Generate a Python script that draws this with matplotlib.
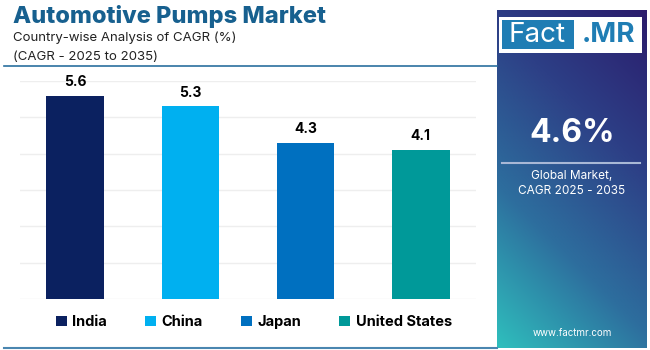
import matplotlib.pyplot as plt
import numpy as np
from matplotlib.colors import LinearSegmentedColormap
from matplotlib.patches import Rectangle, Patch
from matplotlib.lines import Line2D

plt.rcParams['font.family'] = ['Inter', 'DejaVu Sans']

# datos
countries = ['India', 'China', 'Japan', 'United States']
cagr = [5.6, 5.3, 4.3, 4.1]
bar_colors = ['#0b2160', '#00b0f0', '#0070c0', '#009999']
global_cagr = '4.6%'

fig = plt.figure(figsize=(6.5, 3.5), dpi=100)
fig.patch.set_facecolor('white')

# titulos
fig.text(13 / 650, 1 - 17 / 350, 'Automotive Pumps Market', fontsize=17, fontweight='heavy',
         color='#17608f', va='center', ha='left')
fig.text(13 / 650, 1 - 38 / 350, 'Country-wise Analysis of CAGR (%)', fontsize=9.5,
         color='#222222', va='center', ha='left')
fig.text(13 / 650, 1 - 57 / 350, '(CAGR - 2025 to 2035)', fontsize=9.5,
         color='#222222', va='center', ha='left')
fig.add_artist(Line2D([4 / 650, 497 / 650], [1 - 66 / 350] * 2, color='#2a6f9e', lw=1.2))
fig.add_artist(Line2D([4 / 650, 497 / 650], [1 - 348 / 350] * 2, color='#4a86b0', lw=1.5))

# grafico de barras
ax = fig.add_axes([20 / 650, 1 - 299 / 350, 456 / 650, 218 / 350])
x = np.arange(len(countries))
ax.bar(x, cagr, width=0.5, color=bar_colors, zorder=3)
for xi, v in zip(x, cagr):
    ax.text(xi, v + 0.18, f'{v}', ha='center', va='bottom', fontsize=10, fontweight='bold')
ax.set_xlim(-0.48, 3.48)
ax.set_ylim(0, 6)
ax.set_yticks(range(7))
ax.grid(axis='y', color='#eeeeee', lw=1, zorder=0)
ax.tick_params(left=False, bottom=False, labelleft=False, labelbottom=False)
for s in ax.spines.values():
    s.set_visible(False)

handles = [Patch(facecolor=c, label=n) for c, n in zip(bar_colors, countries)]
leg = fig.legend(handles=handles, loc='center', bbox_to_anchor=(254 / 650, 1 - 322 / 350),
                 ncol=4, frameon=False, handlelength=0.75, handleheight=0.75,
                 handletextpad=0.4, columnspacing=2.6,
                 prop={'weight': 'bold', 'size': 10.5})

# panel derecho con degradado
pan = fig.add_axes([497 / 650, 1 - 348 / 350, 150 / 650, 338 / 350])
gx, gy = np.meshgrid(np.linspace(0, 1, 200), np.linspace(0, 1, 400))
t = 0.8 * gy + 0.35 * gx
t = (t - t.min()) / (t.max() - t.min())
cmap = LinearSegmentedColormap.from_list('panel', ['#2fbfbd', '#2d6e9e', '#2d3f86', '#2b1c6c'])
pan.imshow(t, extent=[0, 1, 0, 1], origin='lower', cmap=cmap, aspect='auto')
pan.set_xlim(0, 1)
pan.set_ylim(0, 1)
pan.axis('off')

# logo
pan.add_patch(Rectangle((0.01, 0.874), 0.955, 0.105, facecolor='white', zorder=2))
pan.add_patch(Rectangle((0.035, 0.884), 0.48, 0.085, facecolor='#1f7db4', zorder=3))
pan.text(0.27, 0.926, 'Fact', color='white', fontsize=20, ha='center', va='center', zorder=4)
pan.text(0.74, 0.926, '.MR', color='#1f7db4', fontsize=20, fontweight='bold',
         ha='center', va='center', zorder=4)

pan.text(0.5, 0.635, global_cagr, color='white', fontsize=23, fontweight='bold',
         ha='center', va='center')
pan.plot([0.03, 0.95], [0.548, 0.548], color='#a9b8d6', lw=1.5)
pan.text(0.5, 0.51, 'Global Market,', color='white', fontsize=8.5, ha='center', va='center')
pan.text(0.5, 0.465, 'CAGR 2025 - 2035', color='white', fontsize=8.5, ha='center', va='center')
pan.text(0.5, 0.045, 'www.factmr.com', color='white', fontsize=7, ha='center', va='center')

fig.savefig('out.png', dpi=100)
